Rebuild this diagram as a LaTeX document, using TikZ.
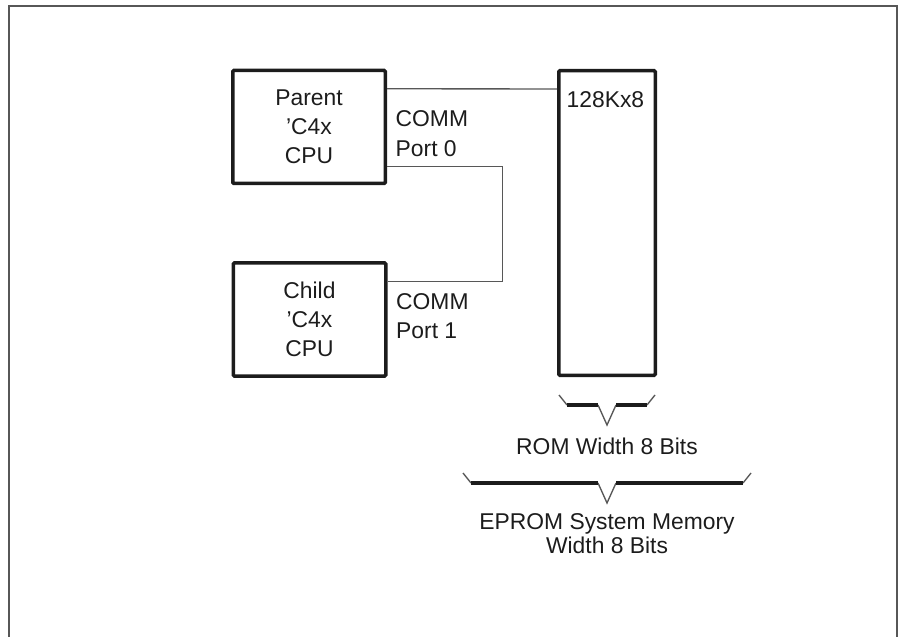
\documentclass[tikz,border=0pt]{standalone}
\usepackage{fontspec}
\setmainfont{Liberation Sans}
\usetikzlibrary{positioning,calc}
\definecolor{ink}{HTML}{1C1C1C}
\definecolor{grey}{HTML}{575757}

\begin{document}
\begin{tikzpicture}[font=\fontsize{13}{16.5}\selectfont,
  cpu/.style={draw=ink,line width=0.7mm,rounded corners=0.6pt,minimum width=30.5mm,minimum height=22.6mm,align=center,inner sep=0,text=ink},
  wire/.style={draw=grey,line width=0.27mm},
  bar/.style={draw=ink,line width=0.65mm},
  lbl/.style={anchor=base west,align=left,text=ink,font=\fontsize{13}{17}\selectfont}]
  \useasboundingbox (0,0) rectangle (180.2mm,-127.4mm);
  \draw[grey,line width=0.35mm] (1.8mm,-127.4mm) |- (179.4mm,-1.2mm) -- (179.4mm,-127.4mm);
  % processors and memory
  \node[cpu] (par) at (61.8mm,-25.4mm) {Parent\\'C4x\\CPU};
  \node[cpu] (chd) at (61.9mm,-63.9mm) {Child\\'C4x\\CPU};
  \node[cpu,minimum width=19.3mm,minimum height=60.9mm] (mem) at (121.4mm,-44.6mm) {};
  \node[anchor=base west,text=ink] (romsz) at ([shift={(0.7mm,-7.8mm)}]mem.north west) {128Kx8};
  % comm links
  \draw[wire] ([yshift=-4mm]par.north east) -- ([yshift=-4mm]mem.north west);
  \draw[wire] ([yshift=3.8mm]par.south east) -| ([shift={(23mm,-4mm)}]chd.north east) -- ([yshift=-4mm]chd.north east);
  \node[lbl] (port0) at ([shift={(0.5mm,-17.55mm)}]par.north east) {COMM\\Port 0};
  \node[lbl] (port1) at ([shift={(0.5mm,-15.55mm)}]chd.north east) {COMM\\Port 1};
  % width braces
  \def\membrace#1#2#3{
    \path ([yshift=-#1]mem.south) coordinate (#3)
      ++(-#2,0) coordinate (#3a) ++(#2-1.8mm,0) coordinate (#3b)
      ++(3.6mm,0) coordinate (#3c) ++(#2-1.8mm,0) coordinate (#3d);
    \coordinate (#3t) at ([yshift=-4mm]#3);
    \draw[wire] ([shift={(-1.6mm,2mm)}]#3a) -- (#3a) (#3b) -- (#3t) -- (#3c) (#3d) -- ++(1.6mm,2mm);
    \draw[bar] (#3a) -- (#3b) (#3c) -- (#3d);}
  \membrace{5.6mm}{8mm}{rom}
  \membrace{21.2mm}{27.2mm}{eprom}
  \node[anchor=base,text=ink] (romw) at ([yshift=-5.8mm]romt) {ROM Width 8 Bits};
  \node[anchor=base,align=center,text=ink,font=\fontsize{13}{13.5}\selectfont] (sysw) at ([yshift=-10mm]epromt) {EPROM System Memory\\Width 8 Bits};
\end{tikzpicture}
\end{document}
